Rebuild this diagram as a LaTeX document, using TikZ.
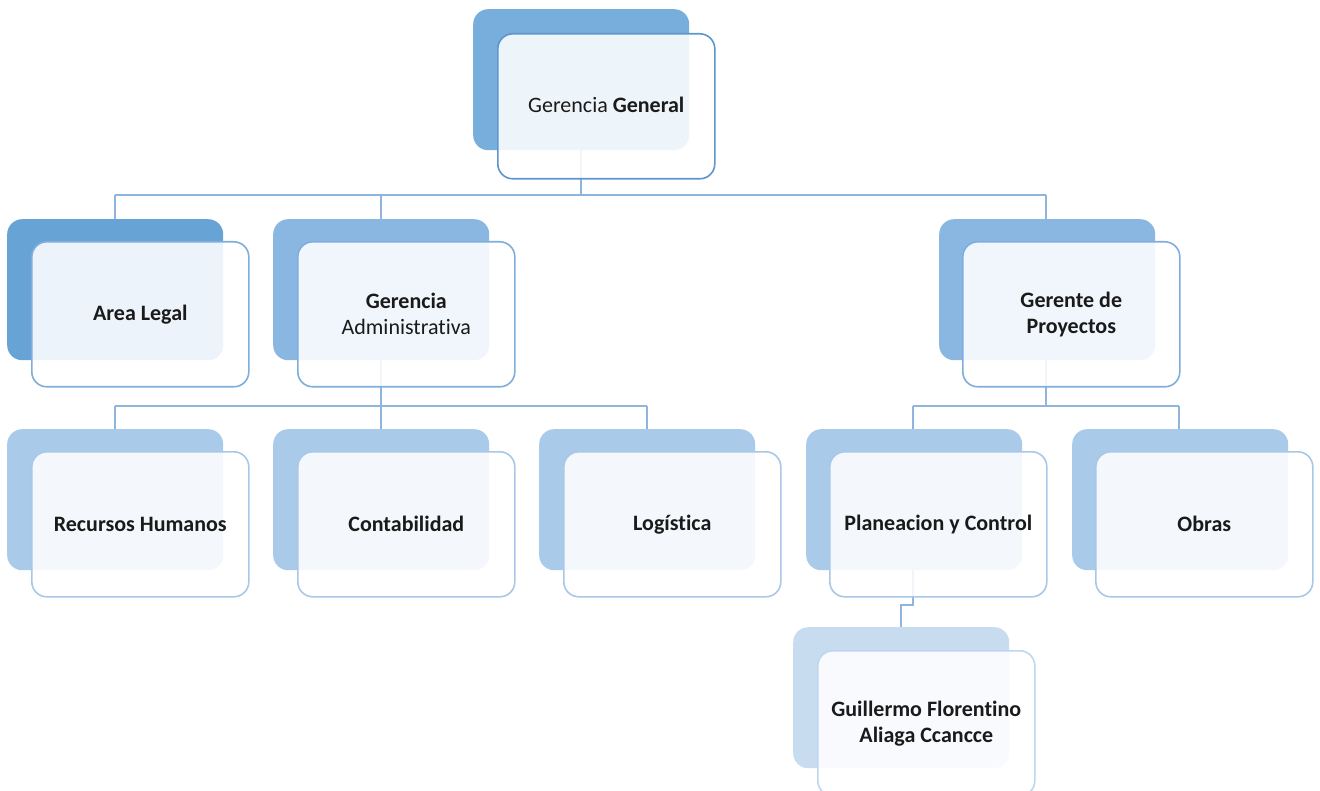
\documentclass[tikz,border=0pt]{standalone}
\usepackage{fontspec}
\setmainfont{Carlito}[Ligatures=NoCommon]
\definecolor{conn}{HTML}{8FB4DE}
\definecolor{backA}{HTML}{78AEDB}
\definecolor{bordA}{HTML}{5E96CC}
\definecolor{backL}{HTML}{68A3D6}
\definecolor{backB}{HTML}{8AB7E2}
\definecolor{bordB}{HTML}{80AEDC}
\definecolor{backC}{HTML}{AACAE9}
\definecolor{bordC}{HTML}{A9C8E7}
\definecolor{backD}{HTML}{C8DCF0}
\definecolor{bordD}{HTML}{C0D6EE}
\definecolor{txt}{HTML}{1A1A1A}
\tikzset{
  backbox/.style={draw=none, rounded corners=15pt, minimum width=216pt, minimum height=141pt, anchor=north west, inner sep=0pt},
  frontbox/.style={rounded corners=15pt, minimum width=217pt, minimum height=145pt, anchor=north west, inner sep=0pt,
    fill=white, fill opacity=0.88, text opacity=1, line width=1.6pt, text=txt, align=center,
    font=\fontsize{22}{27}\selectfont},
  link/.style={draw=conn, line width=2pt}
}
\begin{document}
\begin{tikzpicture}[x=1pt,y=-1pt]
\useasboundingbox (0,0) rectangle (1320,791);
\clip (0,0) rectangle (1320,791);
\fill[white] (0,0) rectangle (1320,791);
% back boxes
\node[backbox, fill=backA] (gg0) at (473,9) {};
\node[backbox, fill=backL] (al0) at (7,219) {};
\node[backbox, fill=backB] (ga0) at (273,219) {};
\node[backbox, fill=backB] (gp0) at (939,219) {};
\node[backbox, fill=backC] (rh0) at (7,429) {};
\node[backbox, fill=backC] (co0) at (273,429) {};
\node[backbox, fill=backC] (lo0) at (539,429) {};
\node[backbox, fill=backC] (pc0) at (806,429) {};
\node[backbox, fill=backC] (ob0) at (1072,429) {};
\node[backbox, fill=backD] (gf0) at (793,627) {};
% connectors
\coordinate (b1) at (581,195);
\coordinate (b1l) at (115,195);
\coordinate (b1r) at (1046,195);
\coordinate (b1m) at (381,195);
\draw[link] (gg0.south -| b1) -- (b1);
\draw[link] (b1l) -- (b1r);
\draw[link] (b1l) -- (b1l |- al0.north);
\draw[link] (b1m) -- (b1m |- ga0.north);
\draw[link] (b1r) -- (b1r |- gp0.north);
\coordinate (b2) at (381,406);
\coordinate (b2l) at (115,406);
\coordinate (b2r) at (647,406);
\draw[link] (ga0.south -| b2) -- (b2);
\draw[link] (b2l) -- (b2r);
\draw[link] (b2l) -- (b2l |- rh0.north);
\draw[link] (b2) -- (b2 |- co0.north);
\draw[link] (b2r) -- (b2r |- lo0.north);
\coordinate (b3) at (1046,406);
\coordinate (b3l) at (913,406);
\coordinate (b3r) at (1179,406);
\draw[link] (gp0.south -| b3) -- (b3);
\draw[link] (b3l) -- (b3r);
\draw[link] (b3l) -- (b3l |- pc0.north);
\draw[link] (b3r) -- (b3r |- ob0.north);
\coordinate (b4a) at (913,605);
\coordinate (b4b) at (901,605);
\draw[link] (pc0.south -| b4a) -- (b4a) -- (b4b) -- (b4b |- gf0.north);
% front boxes
\node[frontbox, draw=bordA] (gg) at (497,33) {\raisebox{3pt}{Gerencia \textbf{General}}};
\node[frontbox, draw=bordB] (al) at (31,241) {\textbf{Area Legal}};
\node[frontbox, draw=bordB] (ga) at (297,241) {\textbf{Gerencia}\\[-1pt]Administrativa};
\node[frontbox, draw=bordB] (gp) at (962,241) {\textbf{Gerente de}\\[-1pt]\textbf{Proyectos}};
\node[frontbox, draw=bordC] (rh) at (31,451) {\textbf{Recursos Humanos}};
\node[frontbox, draw=bordC] (co) at (297,451) {\textbf{Contabilidad}};
\node[frontbox, draw=bordC] (lo) at (563,451) {\textbf{Logística}};
\node[frontbox, draw=bordC] (pc) at (829,451) {\textbf{Planeacion y Control}};
\node[frontbox, draw=bordC] (ob) at (1095,451) {\textbf{Obras}};
\node[frontbox, draw=bordD] (gf) at (817,650) {\textbf{Guillermo Florentino}\\[-1pt]\textbf{Aliaga Ccancce}};
\end{tikzpicture}
\end{document}
